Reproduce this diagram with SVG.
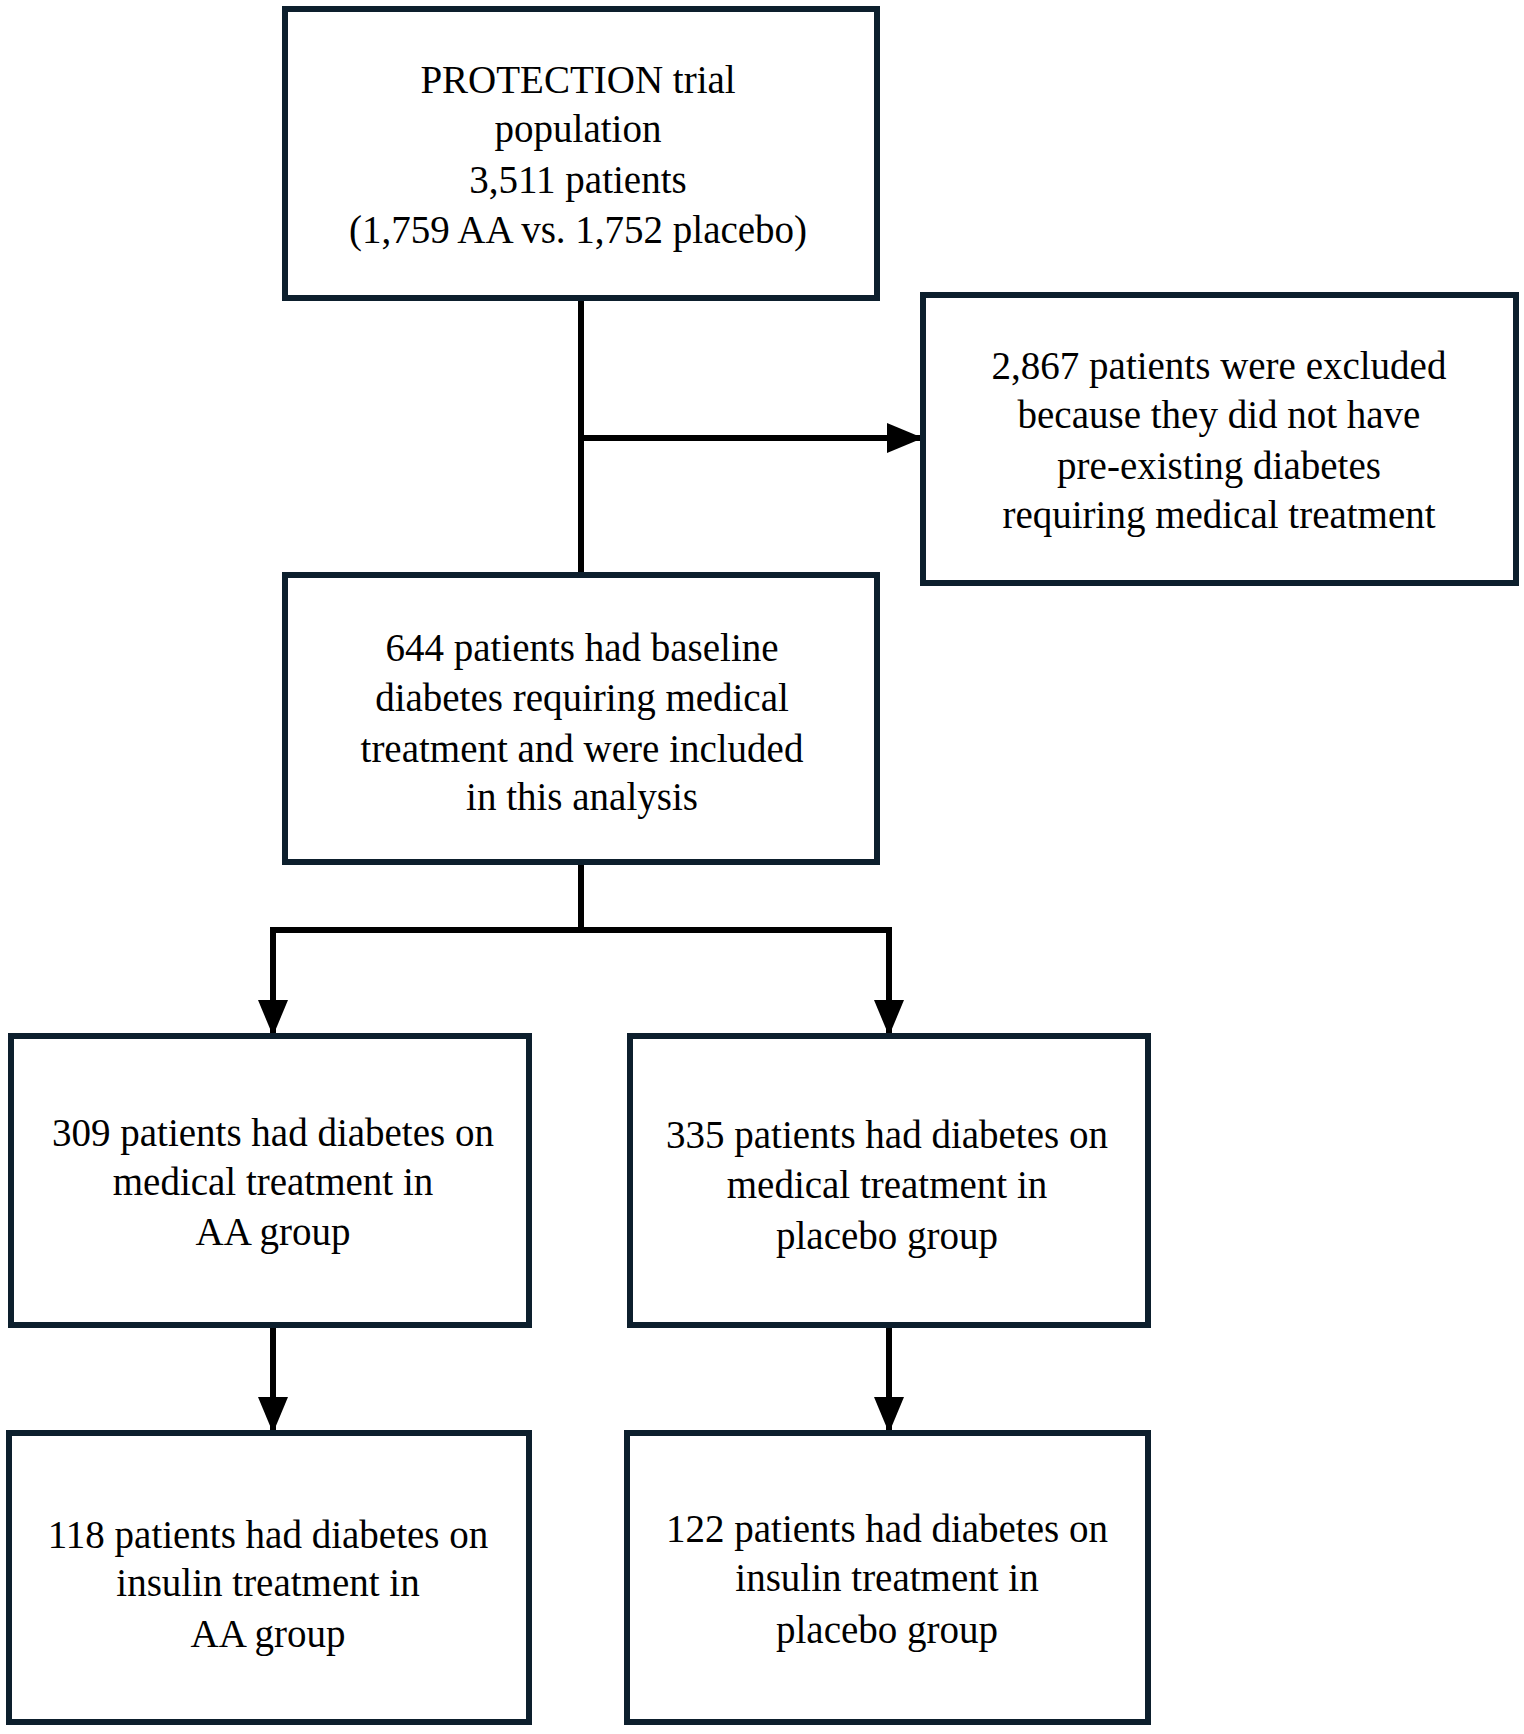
<svg xmlns="http://www.w3.org/2000/svg" width="1524" height="1734" viewBox="0 0 1524 1734">
<style>
.b{fill:#fff;stroke:#0d1f2d;stroke-width:6}
text{font-family:"Liberation Serif","DejaVu Serif",serif;font-size:39px;fill:#000;text-anchor:middle}
.c{stroke:#000;stroke-width:6;fill:none}
</style>
<defs><marker id="a" markerWidth="6" markerHeight="5" refX="5.5" refY="2.5" orient="auto" markerUnits="strokeWidth"><path d="M0,0 L6,2.5 L0,5 z" fill="#000"/></marker></defs>
<rect width="1524" height="1734" fill="#fff"/>
<g id="connectors">
<path class="c" d="M581,298 V575"/>
<path class="c" d="M581,438 H920" marker-end="url(#a)"/>
<path class="c" d="M581,862 V930"/>
<path class="c" d="M273,930 H889"/>
<path class="c" d="M273,927 V1033" marker-end="url(#a)"/>
<path class="c" d="M889,927 V1033" marker-end="url(#a)"/>
<path class="c" d="M273,1325 V1430" marker-end="url(#a)"/>
<path class="c" d="M889,1325 V1430" marker-end="url(#a)"/>
</g>
<g id="n1"><rect class="b" x="285" y="9" width="592" height="289"/>
<text x="578" y="93">PROTECTION trial</text><text x="578" y="142">population</text><text x="578" y="193">3,511 patients</text><text x="578" y="243">(1,759 AA vs. 1,752 placebo)</text></g>
<g id="n2"><rect class="b" x="923" y="295" width="593" height="288"/>
<text x="1219" y="379">2,867 patients were excluded</text><text x="1219" y="428">because they did not have</text><text x="1219" y="479">pre-existing diabetes</text><text x="1219" y="528">requiring medical treatment</text></g>
<g id="n3"><rect class="b" x="285" y="575" width="592" height="287"/>
<text x="582" y="661">644 patients had baseline</text><text x="582" y="711">diabetes requiring medical</text><text x="582" y="762">treatment and were included</text><text x="582" y="810">in this analysis</text></g>
<g id="n4"><rect class="b" x="11" y="1036" width="518" height="289"/>
<text x="273" y="1146">309 patients had diabetes on</text><text x="273" y="1195">medical treatment in</text><text x="273" y="1245">AA group</text></g>
<g id="n5"><rect class="b" x="630" y="1036" width="518" height="289"/>
<text x="887" y="1148">335 patients had diabetes on</text><text x="887" y="1198">medical treatment in</text><text x="887" y="1249">placebo group</text></g>
<g id="n6"><rect class="b" x="9" y="1433" width="520" height="289"/>
<text x="268" y="1548">118 patients had diabetes on</text><text x="268" y="1596">insulin treatment in</text><text x="268" y="1647">AA group</text></g>
<g id="n7"><rect class="b" x="627" y="1433" width="521" height="289"/>
<text x="887" y="1542">122 patients had diabetes on</text><text x="887" y="1591">insulin treatment in</text><text x="887" y="1643">placebo group</text></g>
</svg>
